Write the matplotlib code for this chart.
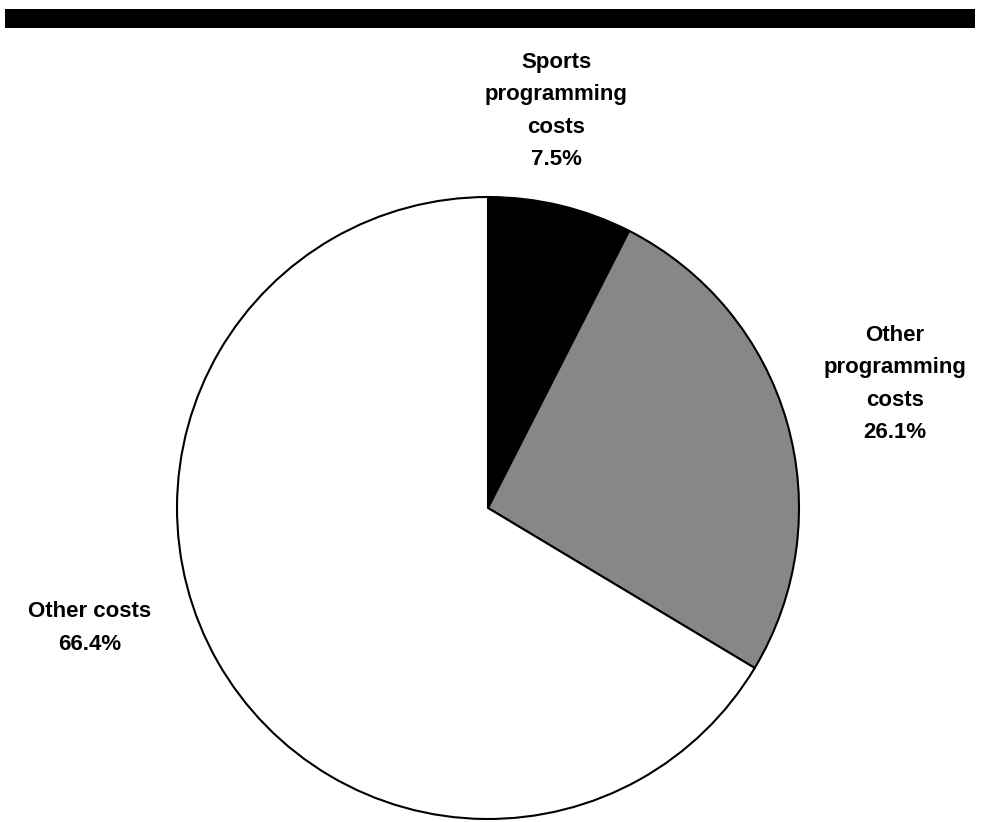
import matplotlib
matplotlib.use("Agg")
import matplotlib.pyplot as plt
from matplotlib.patches import Rectangle

categories = ["Sports\nprogramming\ncosts", "Other\nprogramming\ncosts", "Other costs"]
shares = [7.5, 26.1, 66.4]
pct_labels = ["7.5%", "26.1%", "66.4%"]
colors = ["#000000", "#878787", "#ffffff"]

W, H = 985, 822
fig = plt.figure(figsize=(W / 100, H / 100), dpi=100)
plt.rcParams['font.family'] = ['Liberation Sans', 'DejaVu Sans']

# top black bar
fig.add_artist(Rectangle((5 / W, 1 - 28 / H), 970 / W, 19 / H, transform=fig.transFigure,
                         facecolor="black", edgecolor="none"))

cx, cy, r = 488, 508, 311
ax = fig.add_axes([(cx - r) / W, (H - cy - r) / H, 2 * r / W, 2 * r / H])
ax.pie(shares, colors=colors, startangle=90, counterclock=False, radius=1,
       wedgeprops=dict(edgecolor="black", linewidth=1.5))
ax.set_xlim(-1, 1)
ax.set_ylim(-1, 1)
ax.set_aspect("equal")
ax.axis("off")

label_pos = [(556, 111), (895, 384), (90, 628)]
for cat, pct, (x, y) in zip(categories, pct_labels, label_pos):
    fig.text(x / W, 1 - y / H, cat + "\n" + pct, ha="center", va="center",
             fontsize=16, fontweight="bold", linespacing=1.72)

fig.savefig("out.png", dpi=100, facecolor="white")
